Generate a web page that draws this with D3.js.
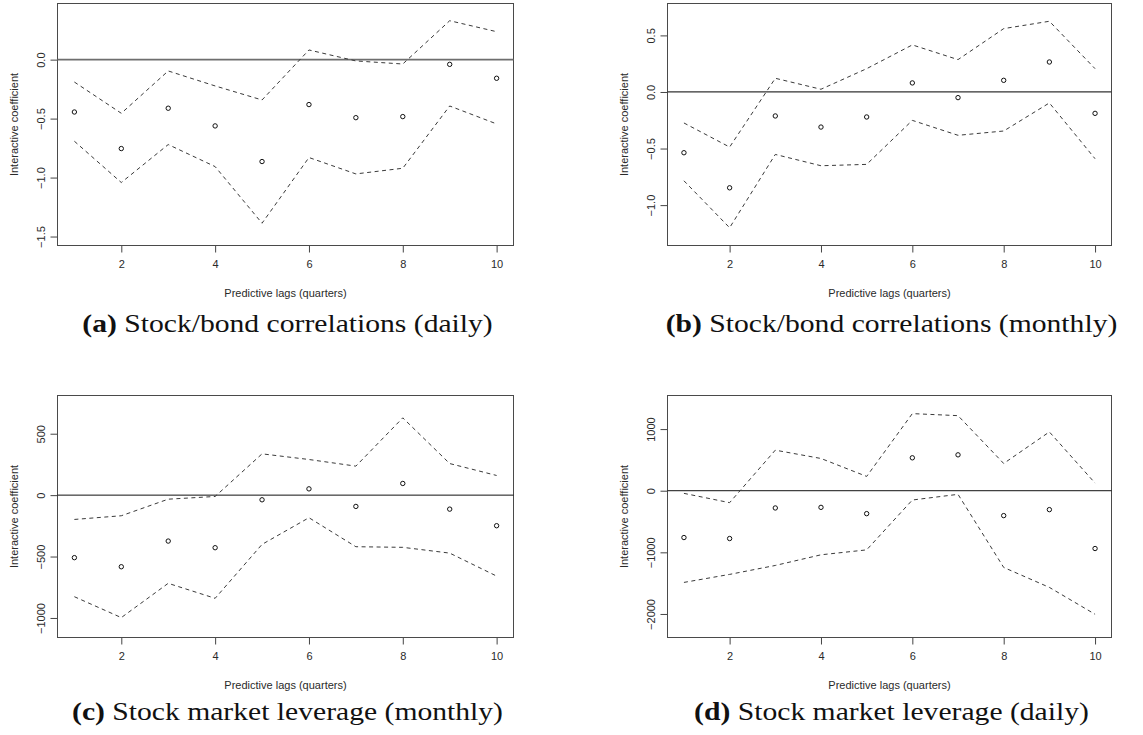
<!DOCTYPE html>
<html>
<head>
<meta charset="utf-8">
<script src="https://cdn.jsdelivr.net/npm/d3@7"></script>
<style>
  body { margin: 0; background: #fff; }
  svg { display: block; }
</style>
</head>
<body>
<svg id="chart" width="1143" height="735"></svg>
<script>
// ---------- data ----------
const lags = [1, 2, 3, 4, 5, 6, 7, 8, 9, 10];
const xTicks = [2, 4, 6, 8, 10];

// (a) Stock/bond correlations (daily)
const aCoef  = [-0.444, -0.754, -0.412, -0.562, -0.864, -0.381, -0.492, -0.483, -0.040, -0.158];
const aUpper = [-0.190, -0.455, -0.096, -0.223, -0.342,  0.082, -0.011, -0.037,  0.330,  0.237];
const aLower = [-0.692, -1.042, -0.720, -0.907, -1.387, -0.830, -0.969, -0.921, -0.393, -0.545];
const aYTicks = [-1.5, -1.0, -0.5, 0.0];
const aYLim = [-1.576, 0.476];

// (b) Stock/bond correlations (monthly)
const bCoef  = [-0.537, -0.847, -0.212, -0.310, -0.221,  0.080, -0.050,  0.103,  0.265, -0.189];
const bUpper = [-0.274, -0.487,  0.121,  0.024,  0.206,  0.416,  0.286,  0.560,  0.625,  0.206];
const bLower = [-0.785, -1.200, -0.552, -0.652, -0.640, -0.251, -0.383, -0.345, -0.097, -0.590];
const bYTicks = [-1.0, -0.5, 0.0, 0.5];
const bYLim = [-1.357, 0.782];

// (c) Stock market leverage (monthly)
const cCoef  = [-509, -583, -374, -428,  -38,   51,  -92,   95, -114, -249];
const cUpper = [-198, -168,  -33,  -11,  336,  290,  236,  629,  257,  160];
const cLower = [-827, -997, -718, -840, -401, -184, -420, -425, -472, -659];
const cYTicks = [-1000, -500, 0, 500];
const cYLim = [-1159, 811];

// (d) Stock market leverage (daily)
const dCoef  = [-760, -776, -280, -270, -372,  534,  582, -404, -307, -938];
const dUpper = [ -43, -194,  658,  523,  232, 1251, 1218,  442,  954,  124];
const dLower = [-1488, -1358, -1213, -1040, -960, -151, -59, -1245, -1569, -2005];
const dYTicks = [-2000, -1000, 0, 1000];
const dYLim = [-2382, 1545];

const xLim = [0.64, 10.36];
const xTitle = "Predictive lags (quarters)";
const yTitle = "Interactive coefficient";

// ---------- layout ----------
const panels = [
  { tag: "(a)", cap: " Stock/bond correlations (daily)", coef: aCoef, up: aUpper, lo: aLower, ticks: aYTicks, ylim: aYLim, fmt: d3.format(".1f"),
    box: { l: 57.5, r: 513.5, t: 3.5, b: 245.5 }, capY: 332, zero: { c: "#6e6e6e", w: 1.6 } },
  { tag: "(b)", cap: " Stock/bond correlations (monthly)", coef: bCoef, up: bUpper, lo: bLower, ticks: bYTicks, ylim: bYLim, fmt: d3.format(".1f"),
    box: { l: 667.5, r: 1111.5, t: 3.5, b: 245.5 }, capY: 332, zero: { c: "#333", w: 1.2 } },
  { tag: "(c)", cap: " Stock market leverage (monthly)", coef: cCoef, up: cUpper, lo: cLower, ticks: cYTicks, ylim: cYLim, fmt: d3.format("d"),
    box: { l: 57.5, r: 513.5, t: 395.5, b: 637.5 }, capY: 720, zero: { c: "#111", w: 1 } },
  { tag: "(d)", cap: " Stock market leverage (daily)", coef: dCoef, up: dUpper, lo: dLower, ticks: dYTicks, ylim: dYLim, fmt: d3.format("d"),
    box: { l: 667.5, r: 1111.5, t: 395.5, b: 637.5 }, capY: 720, zero: { c: "#111", w: 1 } }
];

const svg = d3.select("#chart");
const textColor = "#2a2a2a";
const sans = "Liberation Sans, Arial, sans-serif";
const serif = "Liberation Serif, 'Times New Roman', serif";

panels.forEach(p => {
  const g = svg.append("g");
  const x = d3.scaleLinear().domain(xLim).range([p.box.l, p.box.r]);
  const y = d3.scaleLinear().domain(p.ylim).range([p.box.b, p.box.t]);

  // x axis
  const xa = g.append("g").attr("transform", `translate(0,${p.box.b})`)
    .call(d3.axisBottom(x).tickValues(xTicks).tickSize(7).tickPadding(8).tickSizeOuter(0).tickFormat(d3.format("d")));
  xa.select(".domain").remove();
  xa.selectAll("line").attr("stroke", "#444");
  xa.selectAll("text").attr("font-family", sans).attr("font-size", 11).attr("fill", textColor);

  // y axis
  const ya = g.append("g").attr("transform", `translate(${p.box.l},0)`)
    .call(d3.axisLeft(y).tickValues(p.ticks).tickSize(7).tickSizeOuter(0).tickFormat(p.fmt));
  ya.select(".domain").remove();
  ya.selectAll("line").attr("stroke", "#444");
  ya.selectAll("text")
    .attr("font-family", sans).attr("font-size", 11).attr("fill", textColor)
    .attr("x", 0).attr("dy", null)
    .attr("text-anchor", "middle")
    .attr("transform", "translate(-17,0) rotate(-90)")
    .attr("y", 0).attr("dominant-baseline", "central");

  // box
  g.append("rect").attr("x", p.box.l).attr("y", p.box.t)
    .attr("width", p.box.r - p.box.l).attr("height", p.box.b - p.box.t)
    .attr("fill", "none").attr("stroke", "#4a4a4a").attr("stroke-width", 1);

  // zero line
  g.append("line").attr("x1", p.box.l).attr("x2", p.box.r)
    .attr("y1", y(0)).attr("y2", y(0))
    .attr("stroke", p.zero.c).attr("stroke-width", p.zero.w);

  // dashed bands
  const line = d3.line().x((d, i) => x(lags[i])).y(d => y(d));
  [p.up, p.lo].forEach(arr => {
    g.append("path").datum(arr).attr("d", line)
      .attr("fill", "none").attr("stroke", "#3a3a3a").attr("stroke-width", 1)
      .attr("stroke-dasharray", "4,3.5");
  });

  // points
  g.selectAll("circle.pt").data(p.coef).join("circle").attr("class", "pt")
    .attr("cx", (d, i) => x(lags[i])).attr("cy", d => y(d)).attr("r", 2.2)
    .attr("fill", "none").attr("stroke", "#111").attr("stroke-width", 1);

  // axis titles
  const cx = (p.box.l + p.box.r) / 2;
  const cy = (p.box.t + p.box.b) / 2;
  g.append("text").attr("x", cx).attr("y", p.box.b + 51)
    .attr("text-anchor", "middle").attr("font-family", sans).attr("font-size", 11)
    .attr("fill", textColor).text(xTitle);
  g.append("text").attr("transform", `translate(${p.box.l - 40},${cy}) rotate(-90)`)
    .attr("text-anchor", "middle").attr("font-family", sans).attr("font-size", 11)
    .attr("fill", textColor).text(yTitle);

  // caption (serif, widened to approximate Computer Modern proportions)
  const cap = g.append("text")
    .attr("transform", `translate(${cx + 2},${p.capY}) scale(1.14,1)`)
    .attr("text-anchor", "middle").attr("font-family", serif).attr("font-size", 26).attr("fill", "#111");
  cap.append("tspan").attr("font-weight", "bold").text(p.tag);
  cap.append("tspan").text(p.cap);
});
</script>
</body>
</html>
